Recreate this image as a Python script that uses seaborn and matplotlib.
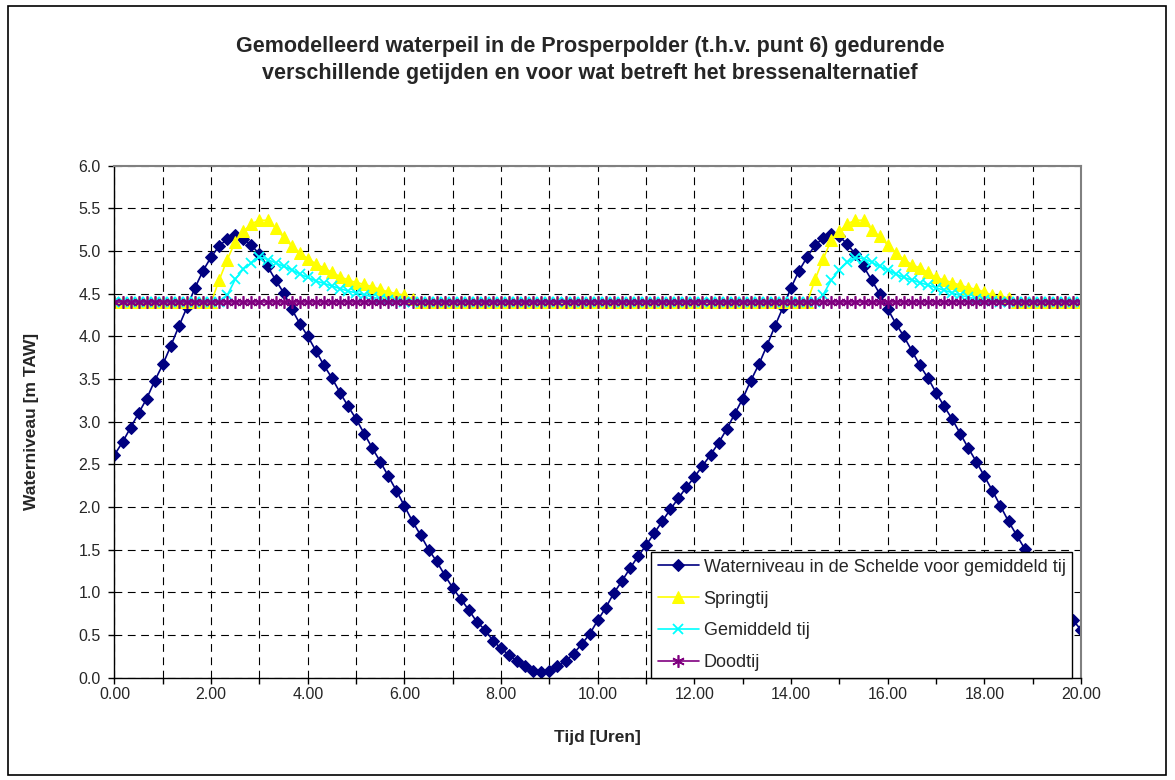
import numpy as np
import matplotlib
matplotlib.use("Agg")
import matplotlib.pyplot as plt
import seaborn as sns
from matplotlib.patches import Rectangle

# tijdstappen van 10 minuten, 0 - 20 uur
tijd = np.arange(0, 121) / 6.0

schelde = [2.61, 2.76, 2.93, 3.10, 3.27, 3.48, 3.67, 3.89, 4.12, 4.34,
           4.57, 4.77, 4.93, 5.06, 5.14, 5.19, 5.14, 5.07, 4.96, 4.82,
           4.66, 4.51, 4.32, 4.15, 4.00, 3.83, 3.66, 3.51, 3.34, 3.18,
           3.03, 2.86, 2.69, 2.53, 2.36, 2.19, 2.01, 1.83, 1.67, 1.50,
           1.36, 1.20, 1.05, 0.92, 0.79, 0.65, 0.56, 0.43, 0.34, 0.26,
           0.19, 0.13, 0.08, 0.06, 0.08, 0.13, 0.19, 0.28, 0.39, 0.51,
           0.67, 0.82, 0.99, 1.13, 1.28, 1.42, 1.55, 1.69, 1.83, 1.97,
           2.10, 2.23, 2.35, 2.48, 2.61, 2.75, 2.91, 3.09, 3.27, 3.48,
           3.67, 3.89, 4.12, 4.34, 4.57, 4.77, 4.93, 5.07, 5.15, 5.20,
           5.17, 5.08, 4.96, 4.82, 4.66, 4.50, 4.32, 4.15, 4.00, 3.83,
           3.66, 3.51, 3.34, 3.18, 3.03, 2.86, 2.69, 2.53, 2.36, 2.19,
           2.01, 1.83, 1.67, 1.51, 1.36, 1.20, 1.05, 0.92, 0.79, 0.67,
           0.56]

springtij = [4.40, 4.40, 4.40, 4.40, 4.40, 4.40, 4.40, 4.40, 4.40, 4.40,
             4.40, 4.40, 4.40, 4.66, 4.90, 5.11, 5.23, 5.32, 5.36, 5.36,
             5.27, 5.16, 5.06, 4.98, 4.91, 4.85, 4.80, 4.75, 4.70, 4.66,
             4.63, 4.61, 4.58, 4.55, 4.52, 4.50, 4.48, 4.44, 4.40, 4.40,
             4.40, 4.40, 4.40, 4.40, 4.40, 4.40, 4.40, 4.40, 4.40, 4.40,
             4.40, 4.40, 4.40, 4.40, 4.40, 4.40, 4.40, 4.40, 4.40, 4.40,
             4.40, 4.40, 4.40, 4.40, 4.40, 4.40, 4.40, 4.40, 4.40, 4.40,
             4.40, 4.40, 4.40, 4.40, 4.40, 4.40, 4.40, 4.40, 4.40, 4.40,
             4.40, 4.40, 4.40, 4.40, 4.40, 4.40, 4.40, 4.67, 4.91, 5.13,
             5.23, 5.32, 5.36, 5.36, 5.25, 5.17, 5.07, 4.98, 4.90, 4.84,
             4.80, 4.75, 4.69, 4.66, 4.63, 4.60, 4.57, 4.55, 4.52, 4.48,
             4.47, 4.45, 4.40, 4.40, 4.40, 4.40, 4.40, 4.40, 4.40, 4.40,
             4.40]

gemiddeld = [4.40, 4.40, 4.40, 4.40, 4.40, 4.40, 4.40, 4.40, 4.40, 4.40,
             4.40, 4.40, 4.40, 4.40, 4.48, 4.67, 4.79, 4.86, 4.93, 4.90,
             4.86, 4.82, 4.78, 4.73, 4.69, 4.65, 4.62, 4.59, 4.56, 4.53,
             4.51, 4.49, 4.46, 4.44, 4.42, 4.41, 4.40, 4.40, 4.40, 4.40,
             4.40, 4.40, 4.40, 4.40, 4.40, 4.40, 4.40, 4.40, 4.40, 4.40,
             4.40, 4.40, 4.40, 4.40, 4.40, 4.40, 4.40, 4.40, 4.40, 4.40,
             4.40, 4.40, 4.40, 4.40, 4.40, 4.40, 4.40, 4.40, 4.40, 4.40,
             4.40, 4.40, 4.40, 4.40, 4.40, 4.40, 4.40, 4.40, 4.40, 4.40,
             4.40, 4.40, 4.40, 4.40, 4.40, 4.40, 4.40, 4.40, 4.49, 4.66,
             4.78, 4.87, 4.92, 4.91, 4.87, 4.82, 4.78, 4.73, 4.69, 4.66,
             4.63, 4.60, 4.57, 4.54, 4.51, 4.48, 4.46, 4.44, 4.42, 4.41,
             4.40, 4.40, 4.40, 4.40, 4.40, 4.40, 4.40, 4.40, 4.40, 4.40,
             4.40]

doodtij = [4.40, 4.40, 4.40, 4.40, 4.40, 4.40, 4.40, 4.40, 4.40, 4.40,
           4.40, 4.40, 4.40, 4.40, 4.40, 4.40, 4.40, 4.40, 4.40, 4.40,
           4.40, 4.40, 4.40, 4.40, 4.40, 4.40, 4.40, 4.40, 4.40, 4.40,
           4.40, 4.40, 4.40, 4.40, 4.40, 4.40, 4.40, 4.40, 4.40, 4.40,
           4.40, 4.40, 4.40, 4.40, 4.40, 4.40, 4.40, 4.40, 4.40, 4.40,
           4.40, 4.40, 4.40, 4.40, 4.40, 4.40, 4.40, 4.40, 4.40, 4.40,
           4.40, 4.40, 4.40, 4.40, 4.40, 4.40, 4.40, 4.40, 4.40, 4.40,
           4.40, 4.40, 4.40, 4.40, 4.40, 4.40, 4.40, 4.40, 4.40, 4.40,
           4.40, 4.40, 4.40, 4.40, 4.40, 4.40, 4.40, 4.40, 4.40, 4.40,
           4.40, 4.40, 4.40, 4.40, 4.40, 4.40, 4.40, 4.40, 4.40, 4.40,
           4.40, 4.40, 4.40, 4.40, 4.40, 4.40, 4.40, 4.40, 4.40, 4.40,
           4.40, 4.40, 4.40, 4.40, 4.40, 4.40, 4.40, 4.40, 4.40, 4.40,
           4.40]

labels = ["Waterniveau in de Schelde voor gemiddeld tij", "Springtij",
          "Gemiddeld tij", "Doodtij"]

sns.set_style("white")
plt.rcParams["font.family"] = ["Liberation Sans", "DejaVu Sans"]

fig = plt.figure(figsize=(11.75, 7.8), dpi=100)
ax = fig.add_axes([114.5 / 1175, 1 - 677.5 / 780, 966.5 / 1175, 511.8 / 780])

# buitenkader van de grafiek
fig.patches.append(Rectangle((8 / 1175, 5 / 780), 1158 / 1175, 769 / 780,
                             transform=fig.transFigure, fill=False,
                             edgecolor="black", linewidth=1.2))

sns.lineplot(x=tijd, y=schelde, ax=ax, color="#000080", linewidth=1.2,
             marker="D", markersize=5.8, markeredgecolor="#000080", label=labels[0])
sns.lineplot(x=tijd, y=springtij, ax=ax, color="#FFFF00", linewidth=1.2,
             marker="^", markersize=8, markeredgecolor="#FFFF00", label=labels[1])
sns.lineplot(x=tijd, y=gemiddeld, ax=ax, color="#00FFFF", linewidth=1.2,
             marker="x", markersize=7.5, markeredgewidth=1.3,
             markeredgecolor="#00FFFF", label=labels[2])
sns.lineplot(x=tijd, y=doodtij, ax=ax, color="#800080", linewidth=1.2,
             marker=(6, 2, 0), markersize=9, markeredgewidth=1.2,
             markeredgecolor="#800080", label=labels[3])

ax.set_xlim(0, 20)
ax.set_ylim(0, 6)
ax.set_xticks(np.arange(0, 21, 1))
ax.set_xticklabels(["%.2f" % v if v % 2 == 0 else "" for v in range(21)])
ax.set_yticks(np.arange(0, 6.01, 0.5))
ax.set_yticklabels(["%.1f" % v for v in np.arange(0, 6.01, 0.5)])
ax.tick_params(axis="both", direction="out", length=4, width=1, color="black",
               labelsize=11.5, bottom=True, left=True)
ax.tick_params(axis="x", pad=3)
ax.tick_params(axis="y", pad=6)

ax.grid(True, color="black", linestyle=(0, (7, 5)), linewidth=0.8)
ax.set_axisbelow(True)
for side in ["top", "right"]:
    ax.spines[side].set_color("#808080")
    ax.spines[side].set_linewidth(1.5)
for side in ["left", "bottom"]:
    ax.spines[side].set_color("black")
    ax.spines[side].set_linewidth(1.0)

ax.set_xlabel("Tijd [Uren]", fontsize=12.5, fontweight="bold", labelpad=20)
ax.set_ylabel("Waterniveau [m TAW]", fontsize=12.5, fontweight="bold", labelpad=28)

fig.text(0.502, 1 - 60 / 780,
         "Gemodelleerd waterpeil in de Prosperpolder (t.h.v. punt 6) gedurende\n"
         "verschillende getijden en voor wat betreft het bressenalternatief",
         ha="center", va="center", fontsize=15.5, fontweight="bold", linespacing=1.4)

leg = ax.legend(loc="lower right", bbox_to_anchor=(0.9907, 0.0), borderaxespad=0,
                fontsize=13, frameon=True, fancybox=False, framealpha=1,
                edgecolor="black", handlelength=2.3, handletextpad=0.25,
                labelspacing=0.82, borderpad=0.35)
leg.get_frame().set_linewidth(1.0)

fig.savefig("out.png", dpi=100)
